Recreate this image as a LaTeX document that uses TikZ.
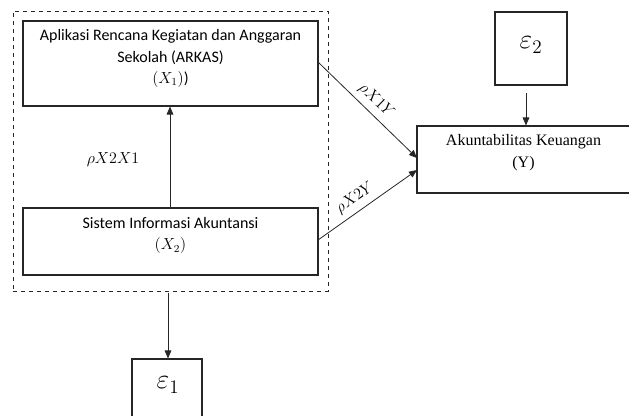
\documentclass[tikz,border=0pt]{standalone}
\usepackage{fontspec}
\setmainfont{Carlito}
\newfontfamily\timesf{Liberation Serif}
\usetikzlibrary{arrows.meta}
\newdimen\pxu \pxu=0.75pt
\begin{document}
\begin{tikzpicture}[x=0.75pt,y=-0.75pt,
  box/.style={draw=black!85, line width=0.8pt, inner sep=0pt},
  dashbox/.style={draw=black!85, dashed, line width=0.7pt, inner sep=0pt},
  txt/.style={align=center, font=\fontsize{12}{16}\selectfont, inner sep=0pt},
  arr/.style={-{Triangle[length=6pt,width=5pt]}, line width=0.6pt, draw=black!85},
  lab/.style={font=\fontsize{12}{14}\selectfont, inner sep=1pt}]
\useasboundingbox (0,0) rectangle (629,415);
% dashed group
\node[dashbox, minimum width=315\pxu, minimum height=280\pxu] (grp) at (170.5,151) {};
% boxes
\node[box, minimum width=295\pxu, minimum height=85\pxu] (x1) at (170.5,63.5) {};
\node[txt] (x1t) at (170.5,58.5) {Aplikasi Rencana Kegiatan dan Anggaran\\Sekolah (ARKAS)\\$(X_1)$)};
\node[box, minimum width=295\pxu, minimum height=67\pxu] (x2) at (170.5,241.5) {};
\node[txt] (x2t) at (170.5,235.5) {Sistem Informasi Akuntansi\\$(X_2)$};
\node[box, minimum width=213\pxu, minimum height=67\pxu] (y) at (523.5,159.5) {};
\node[txt, font=\timesf\fontsize{12}{16}\selectfont] (yt) at (523.5,152.5) {Akuntabilitas Keuangan\\(Y)};
\node[box, minimum width=72\pxu, minimum height=73\pxu] (e2) at (531,48.5) {};
\node[inner sep=0pt, font=\fontsize{20}{22}\selectfont] (e2t) at (531,45) {$\varepsilon_2$};
\node[box, minimum width=70\pxu, minimum height=71\pxu] (e1) at (167,394.5) {};
\node[inner sep=0pt, font=\fontsize{20}{22}\selectfont] (e1t) at (168,385) {$\varepsilon_1$};
% coordinates for connectors
\coordinate (x1r) at (318,62);
\coordinate (x2r) at (318,240);
\coordinate (y1) at (417,158);
\coordinate (y2) at (417,170);
\coordinate (e2a) at (526,93);
\coordinate (e1a) at (168,293);
% connectors
\draw[arr] (x2.north -| 170,0) -- (x1.south -| 170,0);
\draw[arr] (x1r) -- node[lab, sloped, above=3pt, pos=0.5] (l1) {$\rho X1Y$} (y1);
\draw[arr] (x2r) -- node[lab, sloped, above=3pt, pos=0.45] (l2) {$\rho X2Y$} (y2);
\draw[arr] (e2a) -- (e2a |- y.north);
\draw[arr] (e1a) -- (e1a |- e1.north);
\node[lab] (l3) at (113,160) {$\rho X2X1$};
\end{tikzpicture}
\end{document}
